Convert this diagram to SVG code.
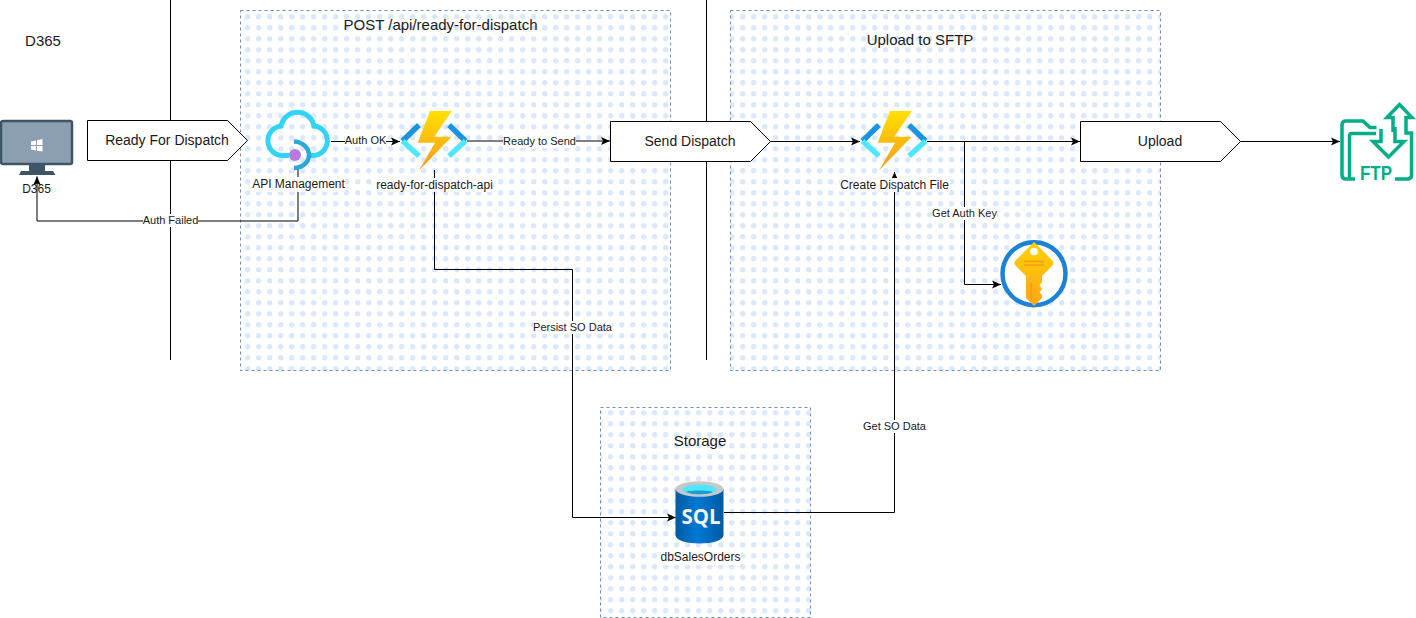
<svg xmlns="http://www.w3.org/2000/svg" width="1416" height="618" viewBox="0 0 1416 618">
<style>
text{font-family:"Liberation Sans",Arial,sans-serif;fill:#1a1a1a;text-anchor:middle}
.t15{font-size:15px}.t14{font-size:14px}.t12{font-size:12px}.t11{font-size:11px}
.box{stroke:#6c8ebf;stroke-width:1;stroke-dasharray:3 3}
.step{fill:#fff;stroke:#000;stroke-width:1}
.c{fill:none;stroke:#000;stroke-width:1}
.lb{fill:#fff}
</style>
<defs>
<pattern id="dots" width="11" height="11" patternUnits="userSpaceOnUse" x="242" y="11"><circle cx="5.700" cy="5.700" r="2.700" fill="#dae8fc"/></pattern>
<marker id="a" markerUnits="userSpaceOnUse" markerWidth="11" markerHeight="10" refX="10" refY="5" orient="auto"><path d="M1 1L10 5L1 9L3 5Z" fill="#000"/></marker>
<linearGradient id="bolt" x1="0" y1="0" x2="0" y2="1"><stop offset="0" stop-color="#fee000"/><stop offset="1" stop-color="#f99a1c"/></linearGradient>
<linearGradient id="sql" x1="0" y1="0" x2="1" y2="0"><stop offset="0" stop-color="#005ba1"/><stop offset=".45" stop-color="#0078d4"/><stop offset="1" stop-color="#005ba1"/></linearGradient>
<linearGradient id="key" x1="0" y1="0" x2="0" y2="1"><stop offset="0" stop-color="#fed200"/><stop offset="1" stop-color="#fca61a"/></linearGradient>
<g id="fn">
<path d="M419 125L402.500 141" stroke="#1b93de" stroke-width="5.500" fill="none"/>
<path d="M402.500 141L419 156" stroke="#50e6ff" stroke-width="5.500" fill="none"/>
<path d="M449 125L465.500 141" stroke="#1b93de" stroke-width="5.500" fill="none"/>
<path d="M465.500 141L449 156" stroke="#50e6ff" stroke-width="5.500" fill="none"/>
<path d="M451.700 111L430 111L417.700 142.700L435 142.700L419 170.500L451.700 136.700L434.300 136.700Z" fill="url(#bolt)"/>
</g>
</defs>

<g id="lane-lines"><path class="c" d="M170.500 0V360M706.500 0V360"/></g>

<g id="group-post"><rect x="240.500" y="10.500" width="430" height="360" fill="url(#dots)" class="box"/><text class="t15" x="440.500" y="30">POST /api/ready-for-dispatch</text></g>
<g id="group-upload"><rect x="730.500" y="10.500" width="430" height="360" fill="url(#dots)" class="box"/><text class="t15" x="920" y="45">Upload to SFTP</text></g>
<g id="group-storage"><rect x="600.500" y="407.500" width="210" height="210" fill="url(#dots)" class="box"/><text class="t15" x="700" y="446">Storage</text></g>

<g id="connectors">
<path class="c" d="M298 168V221H37V176.500" marker-end="url(#a)"/>
<path class="c" d="M331 141.500H400" marker-end="url(#a)"/>
<path class="c" d="M467 141H610" marker-end="url(#a)"/>
<path class="c" d="M434.500 170V269.500H572.500V517.500H676" marker-end="url(#a)"/>
<path class="c" d="M770.500 141.500H860" marker-end="url(#a)"/>
<path class="c" d="M927 141.500H1080" marker-end="url(#a)"/>
<path class="c" d="M964.500 141.500V284.500H1001" marker-end="url(#a)"/>
<path class="c" d="M1240.500 141.500H1340" marker-end="url(#a)"/>
<path class="c" d="M724 512.500H894.500V172" marker-end="url(#a)"/>
</g>
<g id="connector-labels">
<rect class="lb" x="143" y="214" width="55" height="13"/><text class="t11" x="170.500" y="224">Auth Failed</text>
<rect class="lb" x="345" y="134" width="41" height="13"/><text class="t11" x="365.500" y="144">Auth OK</text>
<rect class="lb" x="503" y="135" width="73" height="13"/><text class="t11" x="539.500" y="145">Ready to Send</text>
<rect class="lb" x="533" y="321" width="79" height="13"/><text class="t11" x="572.500" y="331">Persist SO Data</text>
<rect class="lb" x="932" y="207" width="65" height="13"/><text class="t11" x="964.500" y="217">Get Auth Key</text>
<rect class="lb" x="863" y="420" width="63" height="13"/><text class="t11" x="894.500" y="430">Get SO Data</text>
</g>

<g id="d365-title"><text class="t15" x="43" y="46">D365</text></g>
<g id="d365">
<rect x="1" y="121" width="71" height="43" rx="2" fill="#8c9fb2" stroke="#3e5566" stroke-width="2.500"/>
<path d="M29 165H45V171H29Z" fill="#3e5566"/><path d="M19 175L21 171H53L55.500 175Z" fill="#3e5566"/>
<path d="M31 145V141.500L36 140.500V145ZM37 145V140.300L42.500 139V145ZM31 146H36V150.500L31 149.500ZM37 146H42.500V151.500L37 150.700Z" fill="#fff"/>
<text class="t12" x="36.500" y="193">D365</text>
</g>
<g id="ready-for-dispatch"><path class="step" d="M87.500 120.500H227.500L247.500 140.500L227.500 160.500H87.500Z"/><text class="t14" x="167" y="145">Ready For Dispatch</text></g>

<g id="api-management">
<path d="M289 155.500H283A14.800 14.800 0 0 1 281 126A16.800 16.800 0 0 1 314 126A14.800 14.800 0 0 1 313.500 155.500H309" fill="none" stroke="#32d4f5" stroke-width="5"/>
<path d="M294 141.500C303 142 309 148 309 155C309 162 303 167.500 294 168" fill="none" stroke="#2aa8d8" stroke-width="4.500"/>
<circle cx="295" cy="155" r="6" fill="#b77ae0"/>
<rect class="lb" x="252" y="177" width="93" height="15"/>
<text class="t12" x="298.500" y="188">API Management</text>
</g>
<g id="ready-for-dispatch-api">
<use href="#fn"/>
<rect class="lb" x="376" y="178" width="118" height="14"/>
<text class="t12" x="434.500" y="189">ready-for-dispatch-api</text>
</g>
<g id="send-dispatch"><path class="step" d="M610.500 121.500H750.500L770.500 141.500L750.500 161.500H610.500Z"/><text class="t14" x="690" y="146">Send Dispatch</text></g>
<g id="create-dispatch-file">
<use href="#fn" x="460"/>
<rect class="lb" x="840" y="178" width="110" height="14"/>
<text class="t12" x="894.500" y="189">Create Dispatch File</text>
</g>
<g id="upload"><path class="step" d="M1080.500 121.500H1220.500L1240.500 141.500L1220.500 161.500H1080.500Z"/><text class="t14" x="1160" y="146">Upload</text></g>
<g id="key-vault">
<circle cx="1034" cy="273.700" r="31.500" fill="#fff" stroke="#1b82d8" stroke-width="4.500"/>
<path d="M1034 242L1015.500 260.500Q1013.500 263 1015.500 265.500L1026 276V298L1034 306L1042 298V295L1039.500 292.500L1042 289L1039.500 285.500L1042 282V276L1052.500 265.500Q1054.500 263 1052.500 260.500Z" fill="url(#key)"/>
<circle cx="1034" cy="251.500" r="3.800" fill="#fff"/>
<path d="M1024 261.500H1044M1024 265H1044" stroke="#f59a14" stroke-width="1.500"/>
<path d="M1031 283V300" stroke="#f59a14" stroke-width="1.500"/>
</g>
<g id="ftp" fill="none" stroke="#00ae87" stroke-width="3.500">
<path d="M1355 179H1346Q1342 179 1342 175V125Q1342 121 1346 121H1363L1370 127.500H1376.500"/>
<path d="M1376 133.500H1352Q1349.500 133.500 1349.500 136V179"/>
<path d="M1381 129V141.500H1373L1388.500 157L1404 141.500H1395V127"/>
<path d="M1393 132V117.500H1387L1399.500 104.500L1412 117.500H1406V133H1411.500V175Q1411.500 179 1407 179H1395"/>
<text x="1376" y="180" stroke="none" font-size="21" font-weight="700" textLength="32" lengthAdjust="spacingAndGlyphs" style="fill:#00ae87">FTP</text>
</g>
<g id="db-sales-orders">
<path d="M675.500 489V535C675.500 540 686 543.500 699.500 543.500C713 543.500 723.500 540 723.500 535V489Z" fill="url(#sql)"/>
<ellipse cx="699.500" cy="489" rx="24" ry="7.800" fill="#c8c8c8"/>
<ellipse cx="699.500" cy="489.500" rx="17" ry="5" fill="#50e6ff"/>
<path d="M686 492C691 490 708 490 713 492C708 495 691 495 686 492Z" fill="#199fd4"/>
<text x="701" y="523.500" font-size="22" font-weight="700" textLength="39" lengthAdjust="spacingAndGlyphs" style="font-family:'Open Sans',sans-serif;fill:#f2f2f2">SQL</text>
<rect class="lb" x="660" y="550" width="81" height="15"/>
<text class="t12" x="700.500" y="561">dbSalesOrders</text>
</g>
</svg>
